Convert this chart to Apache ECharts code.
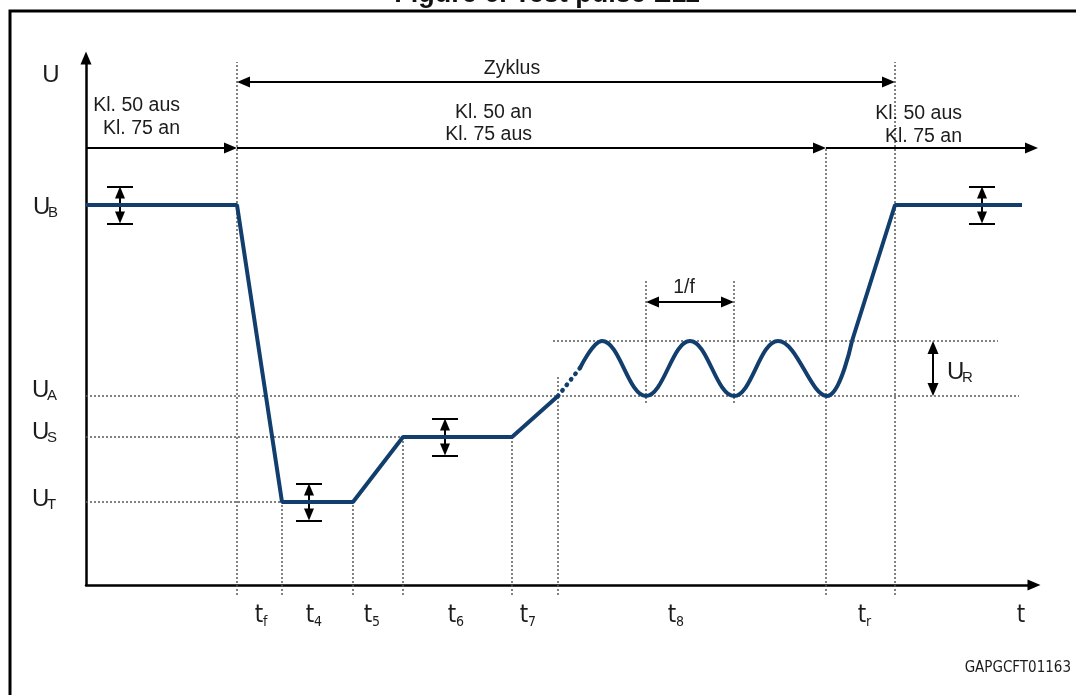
<!DOCTYPE html>
<html>
<head>
<meta charset="utf-8">
<script src="https://cdn.jsdelivr.net/npm/echarts@6/dist/echarts.min.js"></script>
<style>
  html, body { margin: 0; padding: 0; background: #ffffff; }
  #chart { width: 1076px; height: 695px; }
</style>
</head>
<body>
<div id="chart"></div>
<script>
// ---- Diagram values (abstract units: time on x, voltage on y) ----
const levelNames = ['U_B', 'U_A', 'U_S', 'U_T'];
const levels = [38.0, 18.9, 14.8, 8.3];            // U_B, U_A, U_S, U_T
const rippleLevels = [18.9, 21.7, 24.4];            // trough (U_A), mid, crest (U_A + U_R)

const phaseNames = ['t_f', 't_4', 't_5', 't_6', 't_7', 't_8', 't_r'];
const phaseBounds = [15.1, 19.6, 26.7, 31.7, 42.6, 47.2, 74.0, 80.9];

// Supply voltage course
const waveStart = [[0, 38.0], [15.1, 38.0], [19.6, 8.3], [26.7, 8.3], [31.7, 14.8], [42.6, 14.8], [47.2, 18.9]];
const waveDotted = [[47.2, 18.9], [49.4, 21.7]];
const waveRipple = [[49.4, 21.7], [51.6, 24.4], [56.0, 18.9], [60.4, 24.4], [64.8, 18.9],
                    [69.2, 24.4], [74.1, 18.9], [76.6, 24.4]];
const waveEnd = [[76.6, 24.4], [80.9, 38.0], [93.6, 38.0]];

// Dotted guide lines: horizontal [xFrom, xTo, level], vertical [x, yFrom, yTo]
const hGuides = [[0, 93.3, 18.9], [46.7, 91.2, 24.4], [0, 31.7, 14.8], [0, 19.6, 8.3]];
const vGuides = [[15.1, -1.0, 52.3], [19.6, -1.0, 8.3], [26.7, -1.0, 8.3], [31.7, -1.0, 14.8],
                 [42.6, -1.0, 14.8], [47.2, -1.0, 20.8], [56.0, 18.2, 30.5], [64.8, 18.2, 30.5],
                 [74.0, -1.0, 43.7], [80.9, -1.0, 52.3]];

// Dimension arrows [x1, y1, x2, y2, headAtStart, headAtEnd]
const dimArrows = [
  [0, 43.7, 15.1, 43.7, 0, 1],      // Kl. 50 aus / Kl. 75 an
  [15.1, 43.7, 74.0, 43.7, 0, 1],   // Kl. 50 an / Kl. 75 aus
  [74.0, 43.7, 95.2, 43.7, 0, 1],   // Kl. 50 aus / Kl. 75 an
  [15.1, 50.3, 80.9, 50.3, 1, 1],   // Zyklus
  [56.0, 28.3, 64.8, 28.3, 1, 1],   // 1/f
  [84.7, 18.9, 84.7, 24.4, 1, 1]    // U_R
];

// Tolerance markers [x, level]
const tolMarks = [[3.4, 38.0], [89.6, 38.0], [22.3, 8.3], [35.9, 14.8]];

// ---- Layout ----
const GRID = { left: 86, top: 58, width: 948, height: 527 };
const X_MAX = 94.8, Y_MAX = 52.7;
const PX_X = GRID.width / X_MAX, PX_Y = GRID.height / Y_MAX;
const NAVY = '#123e6d';
const INK = '#1c1c1c';
const SANS = "'Liberation Sans', Arial, sans-serif";
const NARROW = "'Liberation Sans Narrow', 'DejaVu Sans Condensed', 'Liberation Sans', sans-serif";
const TOL_HALF = 1.85, CAP_HALF = 1.3;

// Arrow shaft shortened so the triangle tip lands on the given point
function arrowItem(a, size) {
  const [x1, y1, x2, y2, h1, h2] = a;
  const dxp = (x2 - x1) * PX_X, dyp = (y2 - y1) * PX_Y;
  const len = Math.hypot(dxp, dyp);
  const ux = dxp / len, uy = dyp / len;
  const off = size[1] / 2;
  const sx = x1 + (h1 ? ux * off / PX_X : 0), sy = y1 + (h1 ? uy * off / PX_Y : 0);
  const ex = x2 - (h2 ? ux * off / PX_X : 0), ey = y2 - (h2 ? uy * off / PX_Y : 0);
  return [
    { coord: [sx, sy], symbol: h1 ? 'triangle' : 'none', symbolSize: size },
    { coord: [ex, ey], symbol: h2 ? 'triangle' : 'none', symbolSize: size }
  ];
}

const markData = [];
dimArrows.forEach(a => markData.push(arrowItem(a, [11, 13])));
tolMarks.forEach(([x, l]) => {
  markData.push(arrowItem([x, l - TOL_HALF, x, l + TOL_HALF, 1, 1], [10, 12]));
  markData.push([{ coord: [x - CAP_HALF, l + TOL_HALF], symbol: 'none' }, { coord: [x + CAP_HALF, l + TOL_HALF], symbol: 'none' }]);
  markData.push([{ coord: [x - CAP_HALF, l - TOL_HALF], symbol: 'none' }, { coord: [x + CAP_HALF, l - TOL_HALF], symbol: 'none' }]);
});

const guideLines = [];
hGuides.forEach(([a, b, l]) => guideLines.push({ coords: [[a, l], [b, l]] }));
vGuides.forEach(([x, a, b]) => guideLines.push({ coords: [[x, a], [x, b]] }));

function waveSeries(data, extra) {
  return Object.assign({
    type: 'line', data: data, symbol: 'none', clip: false, silent: true, z: 5,
    lineStyle: { color: NAVY, width: 4 }
  }, extra || {});
}

// ---- Text helpers ----
function txt(text, x, y, size, align, family, weight) {
  return {
    type: 'text', x: x, y: y, silent: true, z: 20,
    style: { text: text, fill: INK, fontSize: size, fontFamily: family || SANS,
             fontWeight: weight || 'normal', align: align || 'left', verticalAlign: 'middle' }
  };
}
function symLabel(base, sub, x, y, size, subSize, dx, dy, family) {
  return [txt(base, x, y, size, 'left', family), txt(sub, x + dx, y + dy, subSize, 'left', family)];
}

const texts = [];
// frame and heading
texts.push({
  type: 'rect', silent: true, z: 1,
  shape: { x: 10, y: 11, width: 1080, height: 800 },
  style: { fill: 'none', stroke: '#000', lineWidth: 3 }
});
texts.push({
  type: 'text', x: 547, y: 8, silent: true, z: 20,
  style: { text: 'Figure 6. Test pulse E11', fill: '#111', fontSize: 27, fontFamily: SANS,
           fontWeight: 'bold', align: 'center', verticalAlign: 'bottom' }
});
// axis names
texts.push(txt('U', 51, 75, 24, 'center'));
texts.push(txt('t', 1021, 616, 24, 'center', NARROW));
// level labels
texts.push(...symLabel('U', 'B', 33, 207, 24, 15, 15, 6));
texts.push(...symLabel('U', 'A', 32, 390, 24, 15, 15, 6));
texts.push(...symLabel('U', 'S', 32, 432, 24, 15, 15, 6));
texts.push(...symLabel('U', 'T', 32, 499, 24, 15, 15, 6));
texts.push(...symLabel('U', 'R', 947, 372, 24, 15, 15, 6));
// terminal states
texts.push(txt('Kl. 50 aus', 180, 106, 19.5, 'right'));
texts.push(txt('Kl. 75 an', 180, 129, 19.5, 'right'));
texts.push(txt('Zyklus', 512, 69, 19.5, 'center'));
texts.push(txt('Kl. 50 an', 532, 113, 19.5, 'right'));
texts.push(txt('Kl. 75 aus', 532, 135, 19.5, 'right'));
texts.push(txt('Kl. 50 aus', 962, 114, 19.5, 'right'));
texts.push(txt('Kl. 75 an', 962, 137, 19.5, 'right'));
texts.push(txt('1/f', 684, 288, 19.5, 'center'));
// phase labels
const phaseLabelX = [259, 310, 368, 452, 524, 672, 862];
phaseNames.forEach((n, i) => {
  const sub = n.split('_')[1];
  texts.push(txt('t', phaseLabelX[i], 616, 24, 'center', NARROW));
  texts.push(txt(sub, phaseLabelX[i] + 4, 622, 14, 'left', NARROW));
});
texts.push(txt('GAPGCFT01163', 1071, 668, 15, 'right', NARROW));

const chart = echarts.init(document.getElementById('chart'));
chart.setOption({
  animation: false,
  backgroundColor: '#ffffff',
  grid: GRID,
  xAxis: {
    type: 'value', min: 0, max: X_MAX,
    axisLine: { show: true, onZero: false, symbol: ['none', 'triangle'], symbolSize: [11, 13],
                lineStyle: { color: '#000', width: 2.5 } },
    axisTick: { show: false }, axisLabel: { show: false }, splitLine: { show: false }
  },
  yAxis: {
    type: 'value', min: 0, max: Y_MAX,
    axisLine: { show: true, onZero: false, symbol: ['none', 'triangle'], symbolSize: [11, 13],
                lineStyle: { color: '#000', width: 2.5 } },
    axisTick: { show: false }, axisLabel: { show: false }, splitLine: { show: false }
  },
  series: [
    {
      type: 'lines', coordinateSystem: 'cartesian2d', clip: false, silent: true, z: 2,
      lineStyle: { color: '#5a5a5a', width: 1.5, type: [2, 2], opacity: 1, curveness: 0 },
      data: guideLines
    },
    waveSeries(waveStart),
    waveSeries(waveDotted, { lineStyle: { color: NAVY, width: 4.5, type: [0.5, 6.5], cap: 'round' } }),
    waveSeries(waveRipple, { smooth: 0.4 }),
    waveSeries(waveEnd),
    {
      type: 'line', data: [], silent: true, z: 6,
      markLine: {
        silent: true, animation: false, symbol: ['none', 'none'],
        label: { show: false }, emphasis: { disabled: true },
        lineStyle: { color: '#000', width: 2, type: 'solid' },
        data: markData
      }
    }
  ],
  graphic: texts
});
</script>
</body>
</html>
